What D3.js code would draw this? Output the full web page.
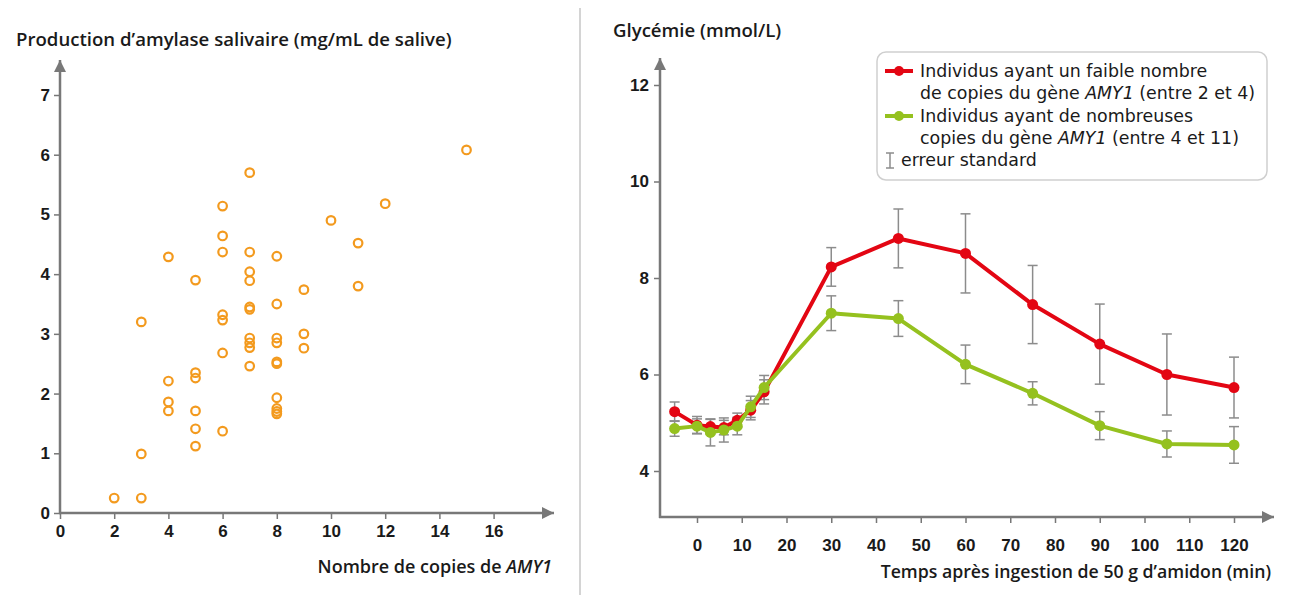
<!DOCTYPE html>
<html>
<head>
<meta charset="utf-8">
<script src="https://cdn.jsdelivr.net/npm/d3@7"></script>
<style>
  body { margin: 0; background: #fff; }
  svg { display: block; font-family: "Open Sans", sans-serif; }
  .tick text { fill: #1a1a1a; }
  .tick line { stroke: #777; stroke-width: 1.5; }
</style>
</head>
<body>
<svg id="chart" width="1290" height="595"></svg>
<script>
// left panel: amylase production vs AMY1 copy number
var copies = [2, 3, 3, 3, 4, 4, 4, 4, 5, 5, 5, 5, 5, 5,
              6, 6, 6, 6, 6, 6, 6, 7, 7, 7, 7, 7, 7, 7, 7, 7, 7,
              8, 8, 8, 8, 8, 8, 8, 8, 8, 8, 9, 9, 9, 10, 11, 11, 12, 15];
var amylase = [0.25, 0.25, 0.99, 3.2, 4.29, 2.21, 1.86, 1.71, 3.9, 2.35, 2.26, 1.71, 1.41, 1.12,
               5.14, 4.64, 4.37, 3.32, 3.23, 2.68, 1.37, 5.7, 4.37, 4.04, 3.89, 3.45, 3.41, 2.93, 2.85, 2.77, 2.46,
               4.3, 3.5, 2.93, 2.85, 2.53, 2.5, 1.93, 1.75, 1.7, 1.66, 3.74, 3.0, 2.76, 4.9, 4.52, 3.8, 5.18, 6.08];
var copiesTicks = [0, 2, 4, 6, 8, 10, 12, 14, 16];
var amylaseTicks = [0, 1, 2, 3, 4, 5, 6, 7];

// right panel: blood glucose after starch ingestion
var minutes = [-5, 0, 3, 6, 9, 12, 15, 30, 45, 60, 75, 90, 105, 120];
var lowCopies = [5.23, 4.95, 4.92, 4.9, 5.05, 5.26, 5.64, 8.23, 8.82, 8.51, 7.45, 6.63, 6.0, 5.73];
var lowErr = [0.2, 0.18, 0.15, 0.15, 0.15, 0.2, 0.25, 0.4, 0.61, 0.82, 0.81, 0.83, 0.84, 0.63];
var highCopies = [4.88, 4.93, 4.8, 4.85, 4.93, 5.33, 5.73, 7.27, 7.16, 6.21, 5.61, 4.94, 4.56, 4.54];
var highErr = [0.16, 0.15, 0.28, 0.25, 0.18, 0.22, 0.25, 0.36, 0.37, 0.4, 0.24, 0.29, 0.27, 0.38];
var minuteTicks = [0, 10, 20, 30, 40, 50, 60, 70, 80, 90, 100, 110, 120];
var glucoseTicks = [4, 6, 8, 10, 12];

var axisColor = "#787878";
var orange = "#f39a1e";
var red = "#e30613";
var green = "#95c11f";
var errColor = "#8c8c8c";
var tickFont = 17;
var titleFont = 18.6;
var legendFont = 17.4;

var svg = d3.select("#chart");

function arrowAxis(x1, y1, x2, y2, dir) {
    svg.append("line")
        .attr("x1", x1).attr("y1", y1).attr("x2", x2).attr("y2", y2)
        .attr("stroke", axisColor).attr("stroke-width", 2.5);
    var p;
    if (dir === "up") {
        p = [[x2 - 6, y2 + 12], [x2, y2], [x2 + 6, y2 + 12]];
    } else {
        p = [[x2 - 12, y2 - 6], [x2, y2], [x2 - 12, y2 + 6]];
    }
    svg.append("path").attr("d", d3.line()(p) + "Z").attr("fill", axisColor);
}

// separator between the two panels
svg.append("line")
    .attr("x1", 580).attr("x2", 580).attr("y1", 8).attr("y2", 595)
    .attr("stroke", "#d4d4d4").attr("stroke-width", 2);

// ---------- left scatter ----------
var xL = d3.scaleLinear().domain([0, 16]).range([60, 493.6]);
var yL = d3.scaleLinear().domain([0, 7]).range([513, 95]);

svg.append("g")
    .attr("transform", "translate(0,513)")
    .call(d3.axisBottom(xL).tickValues(copiesTicks).tickFormat(d3.format("d")).tickSize(6).tickPadding(6))
    .call(g => g.select(".domain").remove());
svg.append("g")
    .attr("transform", "translate(60,0)")
    .call(d3.axisLeft(yL).tickValues(amylaseTicks).tickFormat(d3.format("d")).tickSize(6).tickPadding(4))
    .call(g => g.select(".domain").remove());

arrowAxis(60, 513, 60, 60, "up");
arrowAxis(59, 513, 554, 513, "right");

svg.append("g").selectAll("circle")
    .data(copies)
    .join("circle")
    .attr("cx", (d, i) => xL(d))
    .attr("cy", (d, i) => yL(amylase[i]))
    .attr("r", 4.3)
    .attr("fill", "none")
    .attr("stroke", orange)
    .attr("stroke-width", 2.2);

svg.append("text")
    .attr("x", 16).attr("y", 46)
    .attr("font-size", titleFont).attr("font-weight", 600).attr("fill", "#1a1a1a")
    .text("Production d’amylase salivaire (mg/mL de salive)");

var lblL = svg.append("text")
    .attr("x", 552).attr("y", 573)
    .attr("text-anchor", "end")
    .attr("font-size", 18).attr("font-weight", 600).attr("fill", "#1a1a1a");
lblL.append("tspan").text("Nombre de copies de ");
lblL.append("tspan").attr("font-style", "italic").text("AMY1");

// ---------- right line chart ----------
var xR = d3.scaleLinear().domain([0, 120]).range([697, 1234]);
var yR = d3.scaleLinear().domain([4, 12]).range([471, 85]);

svg.append("g")
    .attr("transform", "translate(0,517)")
    .call(d3.axisBottom(xR).tickValues(minuteTicks).tickSize(6).tickPadding(16))
    .call(g => g.select(".domain").remove());
svg.append("g")
    .attr("transform", "translate(660,0)")
    .call(d3.axisLeft(yR).tickValues(glucoseTicks).tickSize(6).tickPadding(5))
    .call(g => g.select(".domain").remove());
svg.selectAll(".tick text").attr("font-size", tickFont).attr("font-weight", 600);

arrowAxis(660, 518, 660, 58, "up");
arrowAxis(659, 517, 1274, 517, "right");

function drawErrors(vals, errs) {
    var eb = svg.append("g").selectAll("g.err")
        .data(minutes)
        .join("g")
        .attr("class", "err")
        .attr("stroke", errColor)
        .attr("stroke-width", 1.5);
    eb.append("line")
        .attr("x1", d => xR(d)).attr("x2", d => xR(d))
        .attr("y1", (d, i) => yR(vals[i] + errs[i]))
        .attr("y2", (d, i) => yR(vals[i] - errs[i]));
    eb.append("line")
        .attr("x1", d => xR(d) - 5).attr("x2", d => xR(d) + 5)
        .attr("y1", (d, i) => yR(vals[i] + errs[i]))
        .attr("y2", (d, i) => yR(vals[i] + errs[i]));
    eb.append("line")
        .attr("x1", d => xR(d) - 5).attr("x2", d => xR(d) + 5)
        .attr("y1", (d, i) => yR(vals[i] - errs[i]))
        .attr("y2", (d, i) => yR(vals[i] - errs[i]));
}
drawErrors(lowCopies, lowErr);
drawErrors(highCopies, highErr);

var line = d3.line()
    .x((d, i) => xR(minutes[i]))
    .y(d => yR(d));

function drawLine(vals, color) {
    svg.append("path")
        .attr("d", line(vals))
        .attr("fill", "none")
        .attr("stroke", color)
        .attr("stroke-width", 4)
        .attr("stroke-linejoin", "round");
    svg.append("g").selectAll("circle")
        .data(vals)
        .join("circle")
        .attr("cx", (d, i) => xR(minutes[i]))
        .attr("cy", d => yR(d))
        .attr("r", 5.5)
        .attr("fill", color);
}
drawLine(lowCopies, red);
drawLine(highCopies, green);

svg.append("text")
    .attr("x", 613).attr("y", 37)
    .attr("font-size", titleFont).attr("font-weight", 600).attr("fill", "#1a1a1a")
    .text("Glycémie (mmol/L)");

svg.append("text")
    .attr("x", 1271).attr("y", 578)
    .attr("text-anchor", "end")
    .attr("font-size", 17.7).attr("font-weight", 600).attr("fill", "#1a1a1a")
    .text("Temps après ingestion de 50 g d’amidon (min)");

// legend (compact font so the tight line spacing of the original fits)
var leg = svg.append("g").attr("font-family", "'DejaVu Sans', sans-serif");
leg.append("rect")
    .attr("x", 877).attr("y", 52).attr("width", 390).attr("height", 128)
    .attr("rx", 9)
    .attr("fill", "#fff").attr("stroke", "#cfcfcf").attr("stroke-width", 1.5);

var legendItems = [
    { color: red, y: 71, lines: [["Individus ayant un faible nombre"], ["de copies du gène ", "AMY1", " (entre 2 et 4)"]] },
    { color: green, y: 116, lines: [["Individus ayant de nombreuses"], ["copies du gène ", "AMY1", " (entre 4 et 11)"]] }
];
legendItems.forEach(function(it) {
    leg.append("line")
        .attr("x1", 885).attr("x2", 913).attr("y1", it.y).attr("y2", it.y)
        .attr("stroke", it.color).attr("stroke-width", 4);
    leg.append("circle").attr("cx", 899).attr("cy", it.y).attr("r", 5).attr("fill", it.color);
    it.lines.forEach(function(parts, li) {
        var t = leg.append("text")
            .attr("x", 920).attr("y", it.y + 6 + li * 22)
            .attr("font-size", legendFont).attr("fill", "#1a1a1a");
        parts.forEach(function(p, pi) {
            t.append("tspan").attr("font-style", pi === 1 ? "italic" : null).text(p);
        });
    });
});
leg.append("g")
    .attr("stroke", errColor).attr("stroke-width", 1.5)
    .call(g => {
        g.append("line").attr("x1", 890).attr("x2", 890).attr("y1", 153).attr("y2", 168);
        g.append("line").attr("x1", 886).attr("x2", 894).attr("y1", 153).attr("y2", 153);
        g.append("line").attr("x1", 886).attr("x2", 894).attr("y1", 168).attr("y2", 168);
    });
leg.append("text")
    .attr("x", 901).attr("y", 166)
    .attr("font-size", legendFont).attr("fill", "#1a1a1a")
    .text("erreur standard");
</script>
</body>
</html>
